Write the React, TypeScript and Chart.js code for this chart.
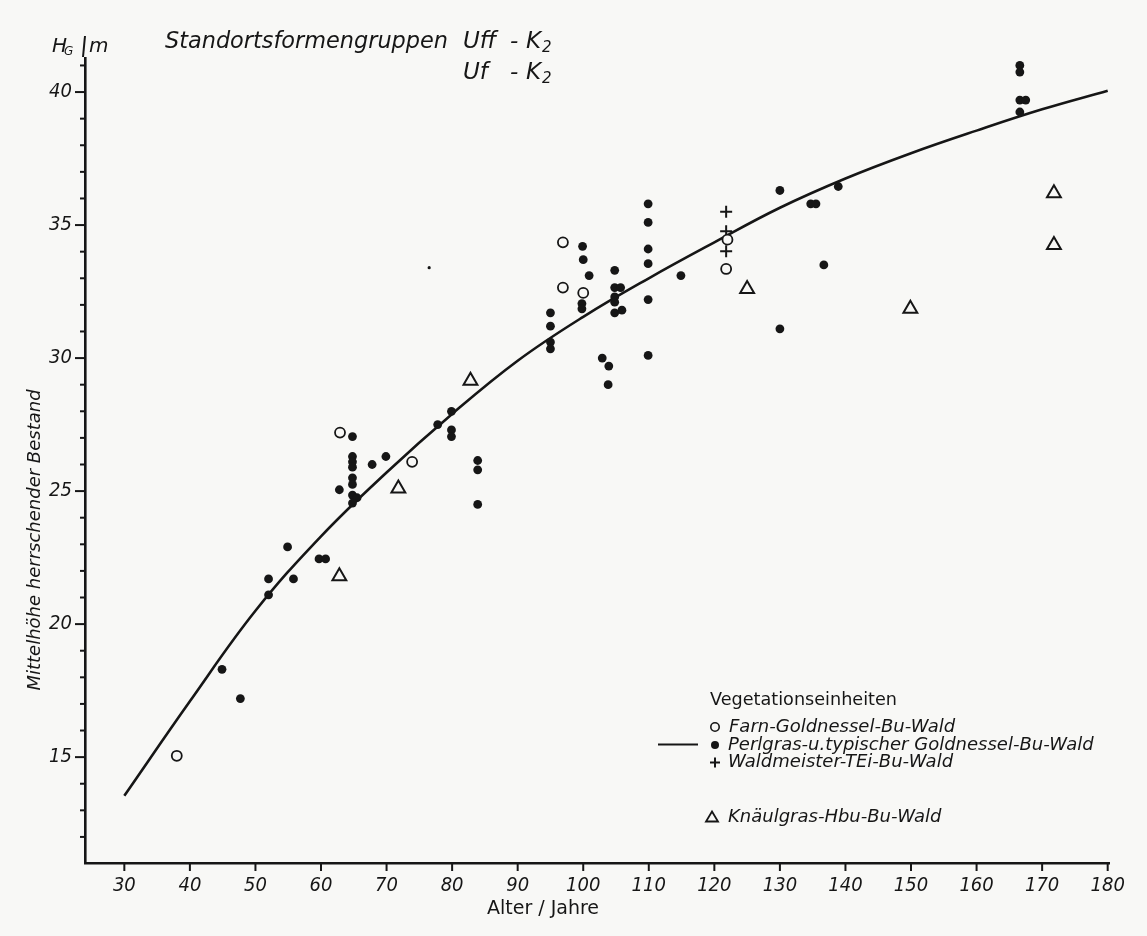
import React, { useEffect, useRef } from 'react';
import { Chart, registerables } from 'chart.js';

Chart.register(...registerables);

// ---------- data ----------
const xTickValues = [30, 40, 50, 60, 70, 80, 90, 100, 110, 120, 130, 140, 150, 160, 170, 180];
const yTickValues = [15, 20, 25, 30, 35, 40];
const yMinorTickValues = [12, 13, 14, 15, 16, 17, 18, 19, 20, 21, 22, 23, 24, 25, 26, 27, 28, 29, 30, 31, 32, 33, 34, 35, 36, 37, 38, 39, 40, 41];

const curveAge = [30, 40, 50, 60, 70, 80, 90, 100, 110, 120, 130, 140, 150, 160, 170, 180];
const curveHeight = [13.55, 17.1, 20.5, 23.3, 25.7, 27.9, 29.9, 31.55, 33.0, 34.35, 35.65, 36.75, 37.7, 38.55, 39.35, 40.05];

const farnAge = [38.0, 62.9, 73.9, 96.9, 96.9, 100.0, 122.0, 121.8];
const farnHeight = [15.05, 27.2, 26.1, 34.35, 32.65, 32.45, 34.45, 33.35];

const perlAge = [
  44.9, 47.7, 52.0, 52.0, 54.9, 55.8, 59.7, 60.7,
  62.8, 64.8, 64.8, 64.8, 64.8, 64.8, 64.8, 64.8, 65.5, 64.8, 67.8, 69.9,
  77.8, 79.9, 79.9, 79.9, 83.9, 83.9, 83.9,
  95.0, 95.0, 95.0, 95.0,
  99.9, 100.0, 100.9, 99.8, 99.8,
  102.9, 103.9, 103.8,
  104.8, 104.8, 105.7, 104.8, 104.8, 104.8, 105.9,
  109.9, 109.9, 109.9, 109.9, 109.9, 109.9,
  114.9,
  130.0, 130.0,
  134.7, 135.5, 138.9, 136.7,
  166.6, 166.6, 166.6, 167.5, 166.6,
];
const perlHeight = [
  18.3, 17.2, 21.7, 21.1, 22.9, 21.7, 22.45, 22.45,
  25.05, 27.05, 26.3, 26.1, 25.9, 25.5, 25.25, 24.85, 24.75, 24.55, 26.0, 26.3,
  27.5, 28.0, 27.3, 27.05, 26.15, 25.8, 24.5,
  31.7, 31.2, 30.6, 30.35,
  34.2, 33.7, 33.1, 32.05, 31.85,
  30.0, 29.7, 29.0,
  33.3, 32.65, 32.65, 32.3, 32.1, 31.7, 31.8,
  35.8, 35.1, 34.1, 33.55, 32.2, 30.1,
  33.1,
  36.3, 31.1,
  35.8, 35.8, 36.45, 33.5,
  41.0, 40.75, 39.7, 39.7, 39.25,
];

const waldAge = [121.8, 121.8, 121.8];
const waldHeight = [35.5, 34.77, 34.02];

const knaulAge = [62.8, 71.8, 82.8, 125.0, 149.9, 171.8, 171.8];
const knaulHeight = [21.8, 25.1, 29.15, 32.6, 31.85, 36.2, 34.25];

const speckAge = [76.5];
const speckHeight = [33.4];

const legendTitle = 'Vegetationseinheiten';
const legendLabels = [
  'Farn-Goldnessel-Bu-Wald',
  'Perlgras-u.typischer Goldnessel-Bu-Wald',
  'Waldmeister-TEi-Bu-Wald',
  'Knäulgras-Hbu-Bu-Wald',
];
const chartTitle = 'Standortsformengruppen';
const xTitle = 'Alter / Jahre';
const yTitle = 'Mittelhöhe herrschender Bestand';

// ---------- styling ----------
const INK = '#161616';
const PAGE = '#f8f8f6';
const TICK_FAMILY = "'DejaVu Sans Condensed', 'DejaVu Sans', sans-serif";
const TEXT_FAMILY = "'DejaVu Sans', sans-serif";

const toPoints = (xs: number[], ys: number[]) => xs.map((x, i) => ({ x, y: ys[i] }));

const decorPlugin = {
  id: 'decor',
  afterDraw(chart: any) {
    const { ctx, chartArea } = chart;
    const xs = chart.scales.x;
    const ys = chart.scales.y;
    ctx.save();
    ctx.strokeStyle = INK;
    ctx.fillStyle = INK;
    ctx.lineCap = 'butt';

    const seg = (x1: number, y1: number, x2: number, y2: number, w: number) => {
      ctx.lineWidth = w;
      ctx.beginPath();
      ctx.moveTo(x1, y1);
      ctx.lineTo(x2, y2);
      ctx.stroke();
    };

    // x tick marks
    xTickValues.forEach((v) => {
      const px = xs.getPixelForValue(v);
      seg(px, chartArea.bottom, px, chartArea.bottom + 8, 2);
    });
    // y tick marks (major longer)
    yMinorTickValues.forEach((v) => {
      const py = ys.getPixelForValue(v);
      const len = yTickValues.includes(v) ? 10 : 5;
      seg(chartArea.left - len, py, chartArea.left, py, 2);
    });

    const text = (s: string, x: number, y: number, font: string, maxW?: number, align: CanvasTextAlign = 'left') => {
      ctx.font = font;
      ctx.textAlign = align;
      ctx.textBaseline = 'middle';
      if (maxW) ctx.fillText(s, x, y, maxW);
      else ctx.fillText(s, x, y);
    };

    // unit label at top of y axis
    text('H', 52, 47, `italic 20px ${TEXT_FAMILY}`);
    text('G', 64, 52, `italic 12px ${TEXT_FAMILY}`);
    seg(85, 36, 83, 57, 2);
    text('m', 89, 47, `italic 20px ${TEXT_FAMILY}`);

    // chart title
    text(chartTitle, 165, 42, `italic 23px ${TEXT_FAMILY}`, 283);
    text('Uff', 463, 42, `italic 23px ${TEXT_FAMILY}`);
    text('-', 510, 42, `italic 23px ${TEXT_FAMILY}`);
    text('K', 526, 42, `italic 23px ${TEXT_FAMILY}`);
    text('2', 542, 48, `italic 15px ${TEXT_FAMILY}`);
    text('Uf', 463, 73, `italic 23px ${TEXT_FAMILY}`);
    text('-', 510, 73, `italic 23px ${TEXT_FAMILY}`);
    text('K', 526, 73, `italic 23px ${TEXT_FAMILY}`);
    text('2', 542, 79, `italic 15px ${TEXT_FAMILY}`);

    // axis titles
    text(xTitle, 543, 909, `19px ${TEXT_FAMILY}`, 128, 'center');
    ctx.save();
    ctx.translate(35, 540);
    ctx.rotate(-Math.PI / 2);
    text(yTitle, 0, 0, `italic 18px ${TEXT_FAMILY}`, 307, 'center');
    ctx.restore();

    // legend
    text(legendTitle, 710, 700, `18px ${TEXT_FAMILY}`, 187);
    const lf = `italic 18px ${TEXT_FAMILY}`;
    // open circle
    ctx.lineWidth = 1.6;
    ctx.beginPath();
    ctx.arc(715, 727, 4.2, 0, Math.PI * 2);
    ctx.stroke();
    text(legendLabels[0], 729, 727, lf, 231);
    // line + filled dot
    seg(658, 744.5, 698, 744.5, 2.2);
    ctx.beginPath();
    ctx.arc(715, 745, 4, 0, Math.PI * 2);
    ctx.fill();
    text(legendLabels[1], 728, 745, lf, 367);
    // cross
    seg(710, 762.5, 720, 762.5, 2);
    seg(715, 757.5, 715, 767.5, 2);
    text(legendLabels[2], 728, 762, lf, 235);
    // triangle
    ctx.lineWidth = 1.8;
    ctx.beginPath();
    ctx.moveTo(712, 811.5);
    ctx.lineTo(718, 821.5);
    ctx.lineTo(706, 821.5);
    ctx.closePath();
    ctx.stroke();
    text(legendLabels[3], 728, 817, lf, 227);

    ctx.restore();
  },
};

export default function App() {
  const canvasRef = useRef<HTMLCanvasElement | null>(null);

  useEffect(() => {
    const canvas = canvasRef.current;
    if (!canvas) return;
    const chart = new Chart(canvas, {
      type: 'scatter',
      data: {
        datasets: [
          {
            type: 'line',
            label: 'Ausgleichskurve',
            data: toPoints(curveAge, curveHeight),
            borderColor: INK,
            borderWidth: 2.6,
            pointRadius: 0,
            showLine: true,
            fill: false,
            tension: 0.4,
            order: 10,
          } as any,
          {
            label: legendLabels[0],
            data: toPoints(farnAge, farnHeight),
            pointStyle: 'circle',
            pointRadius: 5,
            pointBackgroundColor: PAGE,
            pointBorderColor: INK,
            pointBorderWidth: 1.8,
          },
          {
            label: legendLabels[1],
            data: toPoints(perlAge, perlHeight),
            pointStyle: 'circle',
            pointRadius: 4.4,
            pointBackgroundColor: INK,
            pointBorderColor: INK,
            pointBorderWidth: 0,
          },
          {
            label: legendLabels[2],
            data: toPoints(waldAge, waldHeight),
            pointStyle: 'cross',
            pointRadius: 6,
            pointBorderColor: INK,
            pointBorderWidth: 2,
          },
          {
            label: legendLabels[3],
            data: toPoints(knaulAge, knaulHeight),
            pointStyle: 'triangle',
            pointRadius: 8,
            pointBackgroundColor: PAGE,
            pointBorderColor: INK,
            pointBorderWidth: 2,
          },
          {
            label: 'Punkt',
            data: toPoints(speckAge, speckHeight),
            pointStyle: 'circle',
            pointRadius: 1.6,
            pointBackgroundColor: INK,
            pointBorderWidth: 0,
          },
        ],
      },
      options: {
        animation: false,
        responsive: true,
        maintainAspectRatio: false,
        events: [],
        layout: { padding: { left: 0, top: 58, right: 38, bottom: 0 } },
        plugins: { legend: { display: false }, tooltip: { enabled: false }, title: { display: false } },
        scales: {
          x: {
            type: 'linear',
            min: 24,
            max: 180.2,
            afterBuildTicks: (s: any) => {
              s.ticks = xTickValues.map((v) => ({ value: v }));
            },
            afterFit: (s: any) => {
              s.height = 73;
            },
            grid: { display: false, drawTicks: false },
            border: { display: true, color: INK, width: 2.6 },
            ticks: {
              autoSkip: false,
              maxRotation: 0,
              minRotation: 0,
              padding: 11,
              color: INK,
              font: { family: TICK_FAMILY, size: 20, style: 'italic' },
              callback: (v: any) => String(v),
            },
          },
          y: {
            type: 'linear',
            min: 11.02,
            max: 41.28,
            afterBuildTicks: (s: any) => {
              s.ticks = yTickValues.map((v) => ({ value: v }));
            },
            afterFit: (s: any) => {
              s.width = 85;
            },
            grid: { display: false, drawTicks: false },
            border: { display: true, color: INK, width: 2.6 },
            ticks: {
              autoSkip: false,
              padding: 13,
              color: INK,
              font: { family: TICK_FAMILY, size: 20, style: 'italic' },
              callback: (v: any) => String(v),
            },
          },
        },
      },
      plugins: [decorPlugin],
    });
    return () => chart.destroy();
  }, []);

  return (
    <div style={{ position: 'absolute', left: 0, top: 0, width: 1147, height: 936, background: PAGE }}>
      <canvas ref={canvasRef} />
    </div>
  );
}
